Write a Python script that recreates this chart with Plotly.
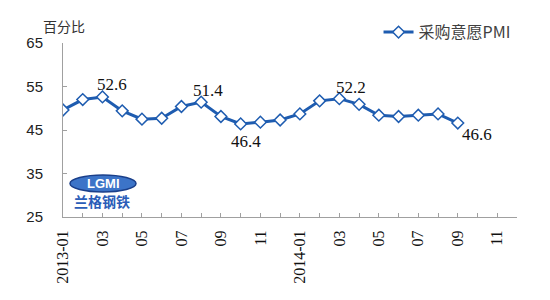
import plotly.graph_objects as go

months = ["2013-01", "02", "03", "04", "05", "06", "07", "08", "09", "10", "11", "12",
          "2014-01", "02", "03", "04", "05", "06", "07", "08", "09", "10", "11", "12"]
tick_labels = ["2013-01", "", "03", "", "05", "", "07", "", "09", "", "11", "",
               "2014-01", "", "03", "", "05", "", "07", "", "09", "", "11", ""]
pmi = [49.6, 52.0, 52.6, 49.4, 47.5, 47.7, 50.4, 51.4, 48.1, 46.4, 46.8, 47.3,
       48.7, 51.7, 52.2, 50.9, 48.4, 48.1, 48.4, 48.7, 46.6]
series_name = "采购意愿PMI"
y_ticks = [25, 35, 45, 55, 65]
# labelled points: (index, xshift, yshift)
labelled = [(2, 10, 12), (7, 7, 12), (9, 5, -18), (14, 12, 11), (20, 19, -11)]

BLUE = "#1E5CB0"
idx = list(range(len(pmi)))

fig = go.Figure()
fig.add_trace(go.Scatter(
    x=idx, y=pmi, mode="lines+markers", name=series_name,
    line=dict(color=BLUE, width=3),
    marker=dict(symbol="diamond", size=9, color="white",
                line=dict(color=BLUE, width=1.5)),
))

for i, dx, dy in labelled:
    fig.add_annotation(x=i, y=pmi[i], text=f"{pmi[i]:.1f}", showarrow=False,
                       xshift=dx, yshift=dy,
                       font=dict(family="Liberation Serif", size=17, color="#111111"))

fig.add_annotation(xref="paper", yref="paper", x=(63.5 - 63) / 454, y=(217 - 26) / 174,
                   text="百分比", showarrow=False, xanchor="center", yanchor="middle",
                   font=dict(family="Noto Sans CJK SC", size=14, color="#333333"))

# logo approximation
fig.add_shape(type="circle", xref="paper", yref="paper",
              x0=(70 - 63) / 454, x1=(136 - 63) / 454,
              y0=(217 - 192) / 174, y1=(217 - 175) / 174,
              fillcolor="#3C74C8", line=dict(color="#1A3F8A", width=1.5), layer="above")
fig.add_annotation(xref="paper", yref="paper", x=(103 - 63) / 454, y=(217 - 183.5) / 174,
                   text="<b>LGMI</b>", showarrow=False, xanchor="center", yanchor="middle",
                   font=dict(family="Liberation Sans", size=13, color="white"))
fig.add_annotation(xref="paper", yref="paper", x=(102 - 63) / 454, y=(217 - 201) / 174,
                   text="<b>兰格钢铁</b>", showarrow=False, xanchor="center", yanchor="middle",
                   font=dict(family="Noto Sans CJK SC", size=14, color="#2A5DB8"))

fig.update_layout(
    width=550, height=300,
    margin=dict(l=63, r=33, t=43, b=83),
    paper_bgcolor="white", plot_bgcolor="white",
    showlegend=True,
    legend=dict(x=0.695, y=1.16, xanchor="left", yanchor="top",
                bgcolor="rgba(0,0,0,0)",
                font=dict(family="Noto Sans CJK SC", size=16, color="#404040"),
                itemwidth=30),
    xaxis=dict(range=[0, 23], tickmode="array", tickvals=list(range(len(months))),
               ticktext=tick_labels, tickangle=-90,
               ticks="inside", ticklen=4, tickcolor="#A0A0A0",
               showline=True, linecolor="#A0A0A0", linewidth=1,
               showgrid=False, zeroline=False, ticklabelstandoff=6,
               tickfont=dict(family="Liberation Serif", size=16, color="#111111")),
    yaxis=dict(range=[25, 65], tickmode="array", tickvals=y_ticks,
               ticks="inside", ticklen=4, tickcolor="#A0A0A0",
               showline=True, linecolor="#A0A0A0", linewidth=1,
               showgrid=False, zeroline=False, ticklabelstandoff=16,
               tickfont=dict(family="Liberation Sans", size=15, color="#222222")),
)

fig.write_html("out.html")
